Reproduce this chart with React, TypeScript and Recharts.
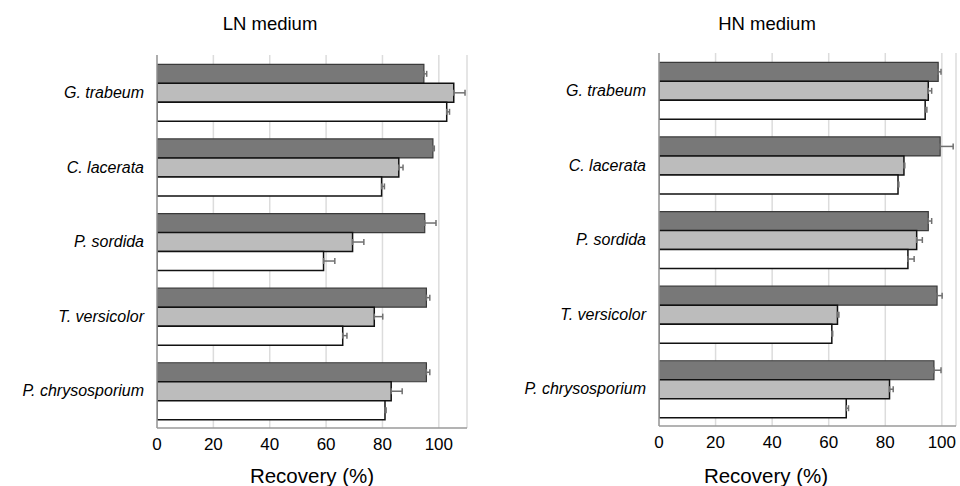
import { BarChart, Bar, XAxis, YAxis, CartesianGrid, ErrorBar } from "recharts";

const species = ["G. trabeum", "C. lacerata", "P. sordida", "T. versicolor", "P. chrysosporium"];
const xTicks = [0, 20, 40, 60, 80, 100];

// LN medium
const lnDark = [94.7, 97.9, 95.0, 95.6, 95.6];
const lnDarkErr = [1, 0.5, 4, 1.2, 1.2];
const lnLight = [105.3, 85.8, 69.4, 77.1, 83.1];
const lnLightErr = [4, 1.5, 4, 3, 3.9];
const lnWhite = [102.8, 79.7, 59.1, 65.9, 80.9];
const lnWhiteErr = [1, 1, 4, 1.5, 0.4];

// HN medium
const hnDark = [98.7, 99.4, 95.2, 98.3, 97.2];
const hnDarkErr = [1, 4.6, 1.2, 1.8, 2.5];
const hnLight = [95.2, 86.6, 91.1, 63.1, 81.5];
const hnLightErr = [1.2, 0.3, 2, 0.5, 1.3];
const hnWhite = [94.1, 84.5, 88.0, 61.1, 66.2];
const hnWhiteErr = [0.6, 0.3, 2.2, 0.3, 0.8];

const font = "'Liberation Sans', Arial, sans-serif";

function build(dark: number[], de: number[], light: number[], le: number[], white: number[], we: number[]) {
  return species.map((name, i) => ({
    name,
    dark: dark[i],
    darkErr: [0, de[i]],
    light: light[i],
    lightErr: [0, le[i]],
    white: white[i],
    whiteErr: [0, we[i]],
  }));
}

const lnData = build(lnDark, lnDarkErr, lnLight, lnLightErr, lnWhite, lnWhiteErr);
const hnData = build(hnDark, hnDarkErr, hnLight, hnLightErr, hnWhite, hnWhiteErr);

function Panel({ data, yWidth, top, bottom, right, domainMax }: any) {
  return (
    <BarChart
      width={480}
      height={486}
      data={data}
      layout="vertical"
      margin={{ top, bottom, left: 0, right }}
      barCategoryGap="12.5%"
      barGap={0}
    >
      <CartesianGrid horizontal={false} stroke="#dcdcdc" strokeWidth={1.5} />
      <XAxis
        type="number"
        domain={[0, domainMax]}
        ticks={xTicks}
        allowDataOverflow
        height={30}
        tickLine={false}
        tickSize={0}
        tickMargin={10}
        axisLine={{ stroke: "#9a9a9a", strokeWidth: 1.5 }}
        tick={{ fill: "#000", fontSize: 17, fontFamily: font }}
      />
      <YAxis
        type="category"
        dataKey="name"
        width={yWidth}
        tickLine={false}
        tickSize={0}
        tickMargin={13}
        axisLine={{ stroke: "#9a9a9a", strokeWidth: 1.5 }}
        tick={{ fill: "#000", fontSize: 16, fontStyle: "italic", fontFamily: font }}
      />
      <Bar dataKey="dark" fill="#787878" stroke="#3a3a3a" strokeWidth={1.2} isAnimationActive={false}>
        <ErrorBar dataKey="darkErr" direction="x" width={3} stroke="#707070" strokeWidth={1.5} />
      </Bar>
      <Bar dataKey="light" fill="#bcbcbc" stroke="#111" strokeWidth={1.5} isAnimationActive={false}>
        <ErrorBar dataKey="lightErr" direction="x" width={3} stroke="#707070" strokeWidth={1.5} />
      </Bar>
      <Bar dataKey="white" fill="#ffffff" stroke="#111" strokeWidth={1.5} isAnimationActive={false}>
        <ErrorBar dataKey="whiteErr" direction="x" width={3} stroke="#707070" strokeWidth={1.5} />
      </Bar>
    </BarChart>
  );
}

const textStyle: any = {
  position: "absolute",
  fontFamily: font,
  color: "#000",
  whiteSpace: "nowrap",
  transform: "translate(-50%, -50%)",
};

export default function App() {
  return (
    <div style={{ position: "absolute", left: 0, top: 0, width: 960, height: 486, background: "#fff", overflow: "hidden" }}>
      <div style={{ position: "absolute", left: 0, top: 0 }}>
        <Panel data={lnData} yWidth={157} top={55} bottom={28} right={13} domainMax={110} />
      </div>
      <div style={{ position: "absolute", left: 480, top: 0 }}>
        <Panel data={hnData} yWidth={179} top={53} bottom={30} right={4} domainMax={105} />
      </div>
      <div style={{ ...textStyle, left: 270, top: 24, fontSize: 18.5 }}>LN medium</div>
      <div style={{ ...textStyle, left: 767, top: 24, fontSize: 18.5 }}>HN medium</div>
      <div style={{ ...textStyle, left: 312, top: 476, fontSize: 20.5 }}>Recovery (%)</div>
      <div style={{ ...textStyle, left: 766, top: 476, fontSize: 20.5 }}>Recovery (%)</div>
    </div>
  );
}
